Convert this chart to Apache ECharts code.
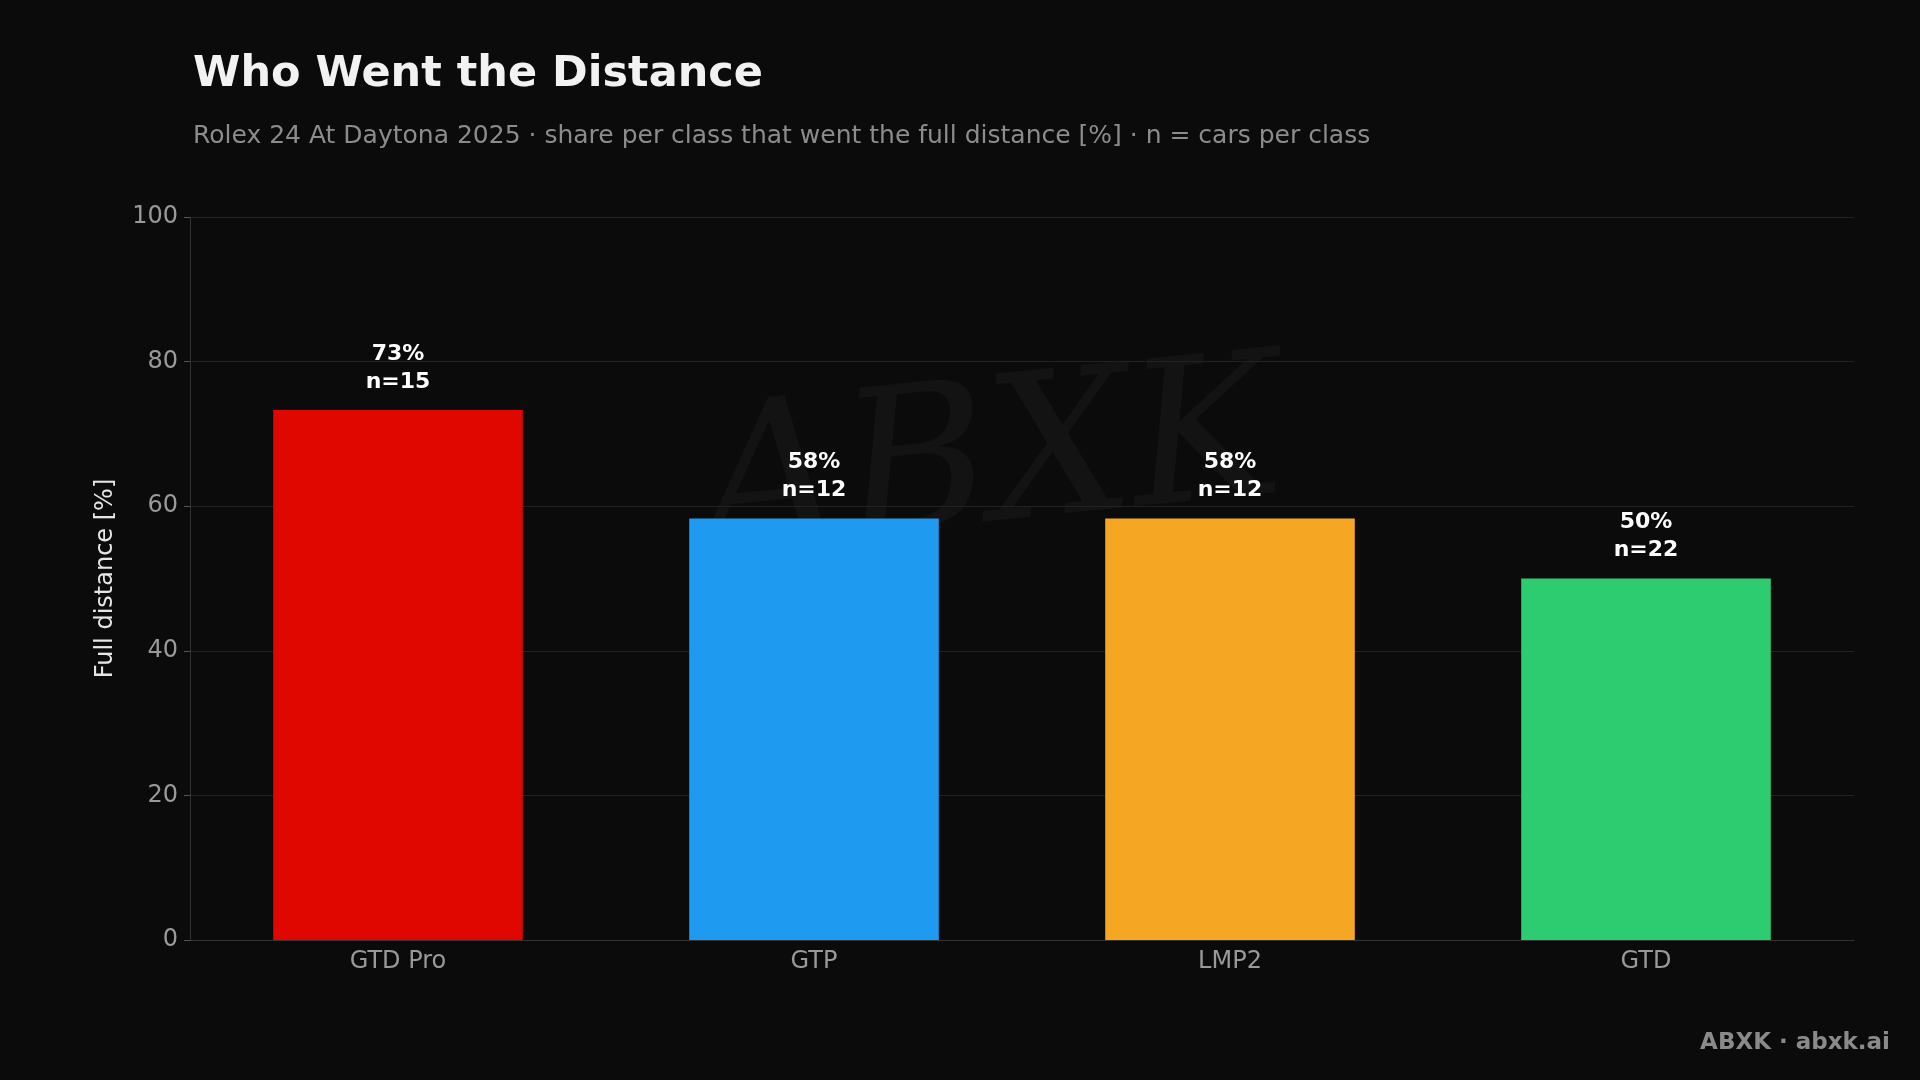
<!DOCTYPE html>
<html><head><meta charset="utf-8">
<script src="https://cdn.jsdelivr.net/npm/echarts@6/dist/echarts.min.js"></script>
<style>html,body{margin:0;background:#0b0b0b}#c{width:1920px;height:1080px}</style>
</head><body><div id="c"></div>
<script>
const categories = ['GTD Pro','GTP','LMP2','GTD'];
const shares = [73.3, 58.3, 58.3, 50.0];
const counts = [15, 12, 12, 22];
const colors = ['#e00700','#1e9bf0','#f5a623','#2ecc71'];
const yTicks = [0,20,40,60,80,100];
const font = 'DejaVu Sans';
const chart = echarts.init(document.getElementById('c'));
chart.setOption({
  backgroundColor:'#0b0b0b',
  textStyle:{fontFamily:font},
  title:{text:'Who Went the Distance',
    subtext:'Rolex 24 At Daytona 2025 · share per class that went the full distance [%] · n = cars per class',
    left:188, top:48, itemGap:28,
    textStyle:{color:'#f2f2f2',fontSize:43,fontWeight:'bold',fontFamily:font},
    subtextStyle:{color:'#8c8c8c',fontSize:25,fontFamily:font}},
  graphic:[
    {type:'text',right:30,bottom:25,style:{text:'ABXK · abxk.ai',fill:'#8a8a8a',font:'bold 23px "DejaVu Sans"',textAlign:'right'}},
    {type:'text',left:690,top:340,rotation:0.1,style:{text:'ABXK',fill:'rgba(255,255,255,0.035)',font:'italic 200px "DejaVu Serif"'}}
  ],
  grid:{left:190,right:66,top:217,bottom:140},
  xAxis:{type:'category',data:categories,
    axisLine:{lineStyle:{color:'#333'}},axisTick:{show:false},
    axisLabel:{color:'#999',fontSize:24,margin:10}},
  yAxis:{type:'value',min:0,max:100,interval:20,
    name:'Full distance [%]',nameLocation:'middle',nameGap:72,
    nameTextStyle:{color:'#e6e6e6',fontSize:24},
    axisLine:{show:true,lineStyle:{color:'#333'}},axisTick:{show:true,length:6,lineStyle:{color:'#555'}},
    axisLabel:{color:'#999',fontSize:24,margin:12,formatter:v=>yTicks.includes(v)?String(v):''},
    splitLine:{lineStyle:{color:'#222'}}},
  series:[{type:'bar',barWidth:'60%',
    data:shares.map((v,i)=>({value:v,itemStyle:{color:colors[i]}})),
    label:{show:true,position:'top',distance:14,color:'#fff',fontWeight:'bold',fontSize:22,lineHeight:28,
      formatter:p=>Math.round(p.value)+'%\nn='+counts[p.dataIndex]}}]
});
</script></body></html>
